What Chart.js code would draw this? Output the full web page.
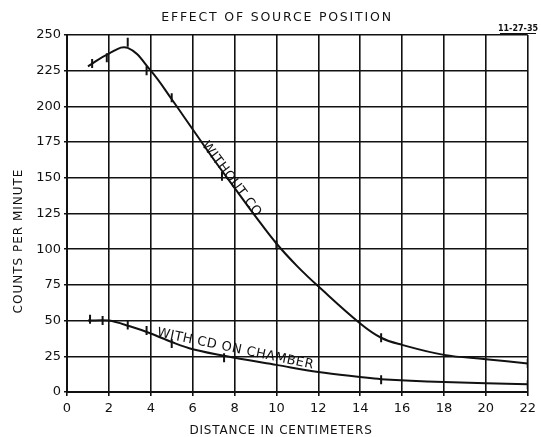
<!DOCTYPE html>
<html>
<head>
<meta charset="utf-8">
<script src="https://cdn.jsdelivr.net/npm/chart.js@4"></script>
<style>
  html, body { margin: 0; padding: 0; background: #fff; }
  #wrap { width: 541px; height: 437px; }
</style>
</head>
<body>
<div id="wrap"><canvas id="chart" width="541" height="437"></canvas></div>
<script>
// values
var xTicks = [0, 2, 4, 6, 8, 10, 12, 14, 16, 18, 20, 22];
var yTicks = [0, 25, 50, 75, 100, 125, 150, 175, 200, 225, 250];

// curve without CO
var noCoX = [1, 2, 2.9, 4, 5, 6, 7, 8, 9, 10, 11, 12, 14, 15, 16, 18, 20, 22];
var noCoY = [228, 237, 241, 225, 205, 184, 163, 143, 123, 104, 88, 74, 48, 38, 33, 26, 23, 20];
// measured points without CO
var noCoPtX = [1.2, 1.9, 2.9, 3.8, 5, 7.4, 10, 15, 22];
var noCoPtY = [230, 234, 245, 225, 206, 151, 103, 38, 20];

// curve with CO on chamber
var coX = [1, 2, 3, 4, 5, 6, 8, 10, 12, 14, 15, 18, 22];
var coY = [50, 50, 46, 41, 35, 30, 24, 19, 14, 10.5, 9, 7, 5.5];
var coPtX = [1.1, 1.7, 2.9, 3.8, 5, 7.5, 15, 22];
var coPtY = [51, 50, 47, 43, 34, 24, 8.5, 5];

function pts(xs, ys) {
    return xs.map(function (x, i) { return { x: x, y: ys[i] }; });
}

var font = "DejaVu Sans";

var textPlugin = {
    id: "texts",
    afterDraw: function (chart) {
        var ctx = chart.ctx;
        var xs = chart.scales.x, ys = chart.scales.y;
        ctx.save();
        ctx.fillStyle = "#111";
        ctx.textAlign = "center";
        ctx.textBaseline = "middle";
        // title
        ctx.font = "12.5px " + font;
        ctx.letterSpacing = "1.8px";
        ctx.fillText("EFFECT OF SOURCE POSITION", 277, 18);
        // axis titles
        ctx.font = "12px " + font;
        ctx.letterSpacing = "0.8px";
        ctx.fillText("DISTANCE IN CENTIMETERS", 281, 431);
        ctx.save();
        ctx.translate(19, 241);
        ctx.rotate(-Math.PI / 2);
        ctx.letterSpacing = "1px";
        ctx.fillText("COUNTS PER MINUTE", 0, 0);
        ctx.restore();
        // date
        ctx.font = "bold 8px " + font;
        ctx.letterSpacing = "0px";
        ctx.fillText("11-27-35", 518, 29);
        ctx.fillRect(500, 33, 36, 1);
        // curve labels
        ctx.font = "13px " + font;
        ctx.letterSpacing = "0.5px";
        ctx.save();
        ctx.translate(xs.getPixelForValue(7.85), ys.getPixelForValue(149));
        ctx.rotate(0.925);
        ctx.fillText("WITHOUT CO", 0, 0);
        ctx.restore();
        ctx.save();
        ctx.translate(xs.getPixelForValue(8.04), ys.getPixelForValue(30));
        ctx.rotate(0.206);
        ctx.fillText("WITH CD ON CHAMBER", 0, 0);
        ctx.restore();
        ctx.restore();
    }
};

new Chart(document.getElementById("chart"), {
    type: "scatter",
    data: {
        datasets: [
            { data: pts(noCoX, noCoY), showLine: true, borderColor: "#111", borderWidth: 2, pointRadius: 0, tension: 0.4 },
            { data: pts(coX, coY), showLine: true, borderColor: "#111", borderWidth: 2, pointRadius: 0, tension: 0.35 },
            { data: pts(noCoPtX, noCoPtY), pointStyle: "line", rotation: 90, radius: 4.5, borderWidth: 2, borderColor: "#111" },
            { data: pts(coPtX, coPtY), pointStyle: "line", rotation: 90, radius: 4.5, borderWidth: 2, borderColor: "#111" }
        ]
    },
    options: {
        responsive: false,
        animation: false,
        layout: { padding: { left: 0, right: 9, top: 35, bottom: 0 } },
        plugins: { legend: { display: false }, tooltip: { enabled: false } },
        scales: {
            x: {
                type: "linear", min: 0, max: 22,
                afterBuildTicks: function (s) { s.ticks = xTicks.map(function (v) { return { value: v }; }); },
                afterFit: function (s) { s.height = 45; },
                grid: { color: "#111", lineWidth: 1.6, drawTicks: true, tickLength: 4 },
                border: { color: "#111", width: 2 },
                ticks: { color: "#111", padding: 5, font: { family: font, size: 13 } }
            },
            y: {
                type: "linear", min: 0, max: 250,
                afterBuildTicks: function (s) { s.ticks = yTicks.map(function (v) { return { value: v }; }); },
                afterFit: function (s) { s.width = 67; },
                grid: { color: "#111", lineWidth: 1.6, drawTicks: true, tickLength: 3 },
                border: { color: "#111", width: 2 },
                ticks: { color: "#111", padding: 3, font: { family: font, size: 13 } }
            }
        }
    },
    plugins: [textPlugin]
});
</script>
</body>
</html>
